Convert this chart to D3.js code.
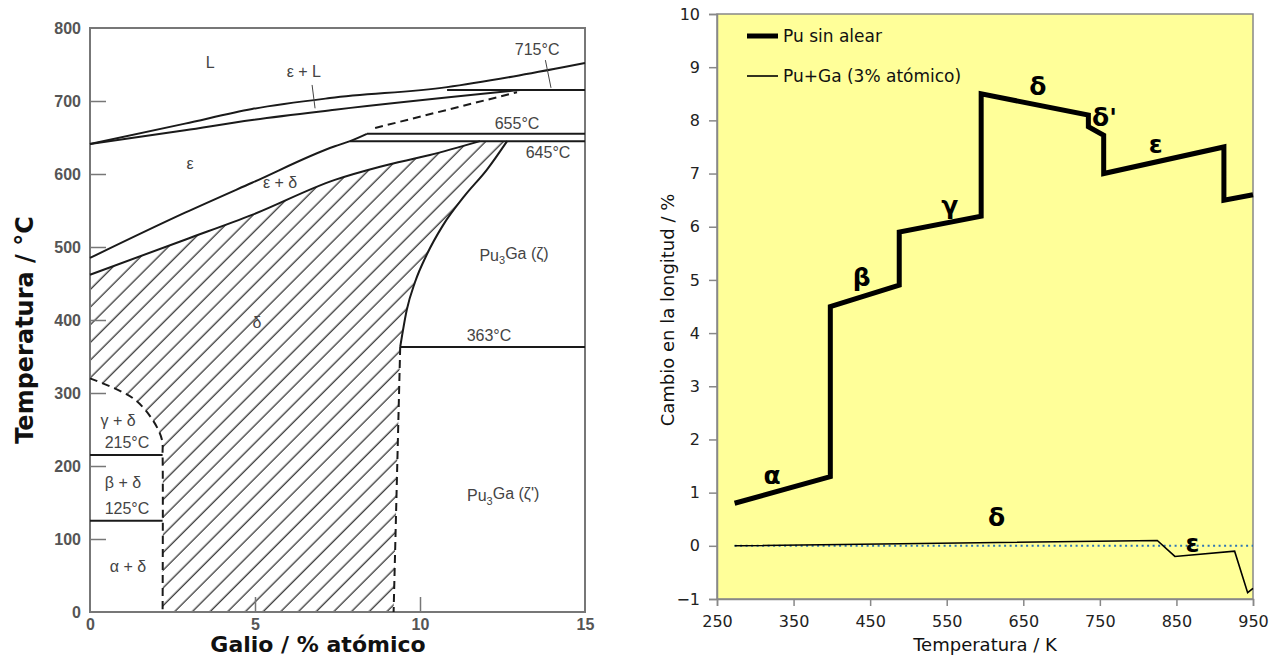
<!DOCTYPE html>
<html>
<head>
<meta charset="utf-8">
<script src="https://cdn.jsdelivr.net/npm/d3@7"></script>
<style>
  body { margin: 0; background: #fff; }
</style>
</head>
<body>
<div id="chart"></div>
<script>
// ---- left panel: Pu-Ga phase diagram, [Ga % atómico, °C]
const liquidus   = [[0,641],[2.88,669],[4.91,689],[7.27,704],[10.82,719],[13,735],[15,752]];
const solidusEps = [[0,641],[2.88,660],[4.91,674],[7.42,688],[13.03,715]];
const epsDelta   = [[0,485],[2.88,547],[4.91,588],[7.42,638],[7.88,645],[8.39,655]];
const deltaTop   = [[0,462],[2.88,510],[4.91,544],[7.42,592],[8.79,610],[10.3,626],[11.82,645]];
const deltaRight = [[9.4,363],[9.6,414],[9.85,452],[10.21,490],[10.7,530],[11.35,570],[12.03,606],[12.64,645]];
const dashedPeri = [[8.64,663],[12.94,712]];
const dashedVert = [[9.4,363],[9.2,0]];
const dashedLeft = [[0,320],[1.3,293],[1.9,263],[2.18,236],[2.2,215],[2.2,0]];
const isotherms  = [[10.82,15,715],[8.39,15,655],[7.88,15,645],[9.4,15,363],[0,2.2,215],[0,2.2,125]];
const leaders    = [[[6.73,722],[6.82,690]],[[13.8,756],[13.97,718]]];
const phaseLabels = [
  {t:"L", x:3.64, y:753}, {t:"ε + L", x:6.48, y:740}, {t:"715°C", x:13.55, y:771},
  {t:"655°C", x:12.94, y:670}, {t:"645°C", x:13.88, y:629}, {t:"ε", x:3.03, y:615},
  {t:"ε + δ", x:5.76, y:588}, {t:"δ", x:5.06, y:397}, {t:"363°C", x:12.09, y:379},
  {t:"γ + δ", x:0.85, y:263}, {t:"215°C", x:1.12, y:232}, {t:"β + δ", x:1.0, y:178},
  {t:"125°C", x:1.12, y:142}, {t:"α + δ", x:1.15, y:62}
];
const compLabels = [{t:"(ζ)", x:12.85, y:489}, {t:"(ζ')", x:12.52, y:160}];
const tempTicks = [0,100,200,300,400,500,600,700,800];
const gaTicks = [0,5,10,15];

// ---- right panel: cambio en la longitud
const puTemp = [273, 398, 398, 488, 488, 595, 595, 735, 735, 755, 755, 912, 912, 950];
const puLen  = [0.8, 1.3, 4.5, 4.9, 5.9, 6.2, 8.5, 8.1, 7.88, 7.72, 7.0, 7.5, 6.5, 6.6];
const gaTemp = [273, 825, 848, 926, 943, 950];
const gaLen  = [0, 0.1, -0.2, -0.1, -0.88, -0.8];
const kTicks = [250,350,450,550,650,750,850,950];
const pctTicks = [-1,0,1,2,3,4,5,6,7,8,9,10];
const greek = [
  {t:"α", x:322, y:1.33}, {t:"β", x:439, y:5.05}, {t:"γ", x:554, y:6.4},
  {t:"δ", x:669, y:8.65}, {t:"δ'", x:756, y:8.05}, {t:"ε", x:823, y:7.55},
  {t:"δ", x:615, y:0.53}, {t:"ε", x:871, y:0.05}
];

const svg = d3.select("#chart").append("svg")
  .attr("width", 1269).attr("height", 657);

// ================= left =================
const xL = d3.scaleLinear().domain([0,15]).range([90,585]);
const yL = d3.scaleLinear().domain([0,800]).range([612,28]);
const lineL = d3.line().x(d => xL(d[0])).y(d => yL(d[1])).curve(d3.curveMonotoneX);
const curveL = d3.line().x(d => xL(d[0])).y(d => yL(d[1])).curve(d3.curveCatmullRom.alpha(0.5));
const straightL = d3.line().x(d => xL(d[0])).y(d => yL(d[1]));

const defs = svg.append("defs");
defs.append("pattern")
  .attr("id", "hatch").attr("patternUnits", "userSpaceOnUse")
  .attr("width", 12.5).attr("height", 10)
  .attr("patternTransform", "rotate(45)")
  .append("line").attr("x1", 6).attr("x2", 6).attr("y1", 0).attr("y2", 10)
  .attr("stroke", "#222").attr("stroke-width", 1.2);

// delta region outline built from the boundary arrays
const deltaPath = lineL(deltaTop) + "L" + xL(12.64) + "," + yL(645) +
  lineL(deltaRight.slice().reverse()).replace(/^M/, "L") +
  "L" + xL(9.2) + "," + yL(0) +
  curveL(dashedLeft.slice().reverse()).replace(/^M/, "L") + "Z";
svg.append("path").attr("d", deltaPath).attr("fill", "url(#hatch)").attr("stroke", "none");

const gL = svg.append("g");
gL.append("rect").attr("x", 90).attr("y", 28).attr("width", 495).attr("height", 584)
  .attr("fill", "none").attr("stroke", "#777").attr("stroke-width", 2);

const axL = gL.append("g").attr("transform", "translate(90,0)")
  .call(d3.axisLeft(yL).tickValues(tempTicks).tickSize(-16).tickPadding(9));
const axB = gL.append("g").attr("transform", "translate(0,612)")
  .call(d3.axisBottom(xL).tickValues(gaTicks).tickSize(-15).tickPadding(7));
[axL, axB].forEach(a => {
  a.select(".domain").remove();
  a.selectAll(".tick line").attr("stroke", "#777").attr("stroke-width", 1.5);
  a.selectAll(".tick text").attr("fill", "#555").attr("font-family", "Liberation Sans, Arial, sans-serif")
    .attr("font-size", 16).attr("font-weight", "bold");
});
axL.selectAll(".tick").filter(d => d === 0 || d === 800).select("line").remove();
axB.selectAll(".tick").filter(d => d === 0 || d === 15).select("line").remove();

const solid = [liquidus, solidusEps, epsDelta, deltaTop, deltaRight];
gL.selectAll("path.phase").data(solid).join("path").attr("class", "phase")
  .attr("d", lineL).attr("fill", "none").attr("stroke", "#1a1a1a").attr("stroke-width", 2);
gL.selectAll("line.iso").data(isotherms).join("line").attr("class", "iso")
  .attr("x1", d => xL(d[0])).attr("x2", d => xL(d[1]))
  .attr("y1", d => yL(d[2])).attr("y2", d => yL(d[2]))
  .attr("stroke", "#1a1a1a").attr("stroke-width", 2);
gL.selectAll("path.dash").data([dashedPeri, dashedVert, dashedLeft]).join("path").attr("class", "dash")
  .attr("d", (d, i) => i === 2 ? curveL(d) : straightL(d))
  .attr("fill", "none").attr("stroke", "#1a1a1a").attr("stroke-width", 2)
  .attr("stroke-dasharray", "8,5");
gL.selectAll("path.lead").data(leaders).join("path").attr("class", "lead")
  .attr("d", straightL).attr("stroke", "#444").attr("stroke-width", 1);

const fontL = "Liberation Sans, Arial, sans-serif";
gL.selectAll("text.ph").data(phaseLabels).join("text").attr("class", "ph")
  .attr("x", d => xL(d.x)).attr("y", d => yL(d.y)).attr("dy", "0.35em")
  .attr("text-anchor", "middle").attr("font-family", fontL).attr("font-size", 16)
  .attr("fill", "#444").text(d => d.t);
compLabels.forEach(d => {
  const t = gL.append("text").attr("x", xL(d.x)).attr("y", yL(d.y)).attr("dy", "0.35em")
    .attr("text-anchor", "middle").attr("font-family", fontL).attr("font-size", 16).attr("fill", "#444");
  t.append("tspan").text("Pu");
  t.append("tspan").attr("font-size", 11).attr("dy", "0.35em").text("3");
  t.append("tspan").attr("dy", "-0.35em").text("Ga " + d.t);
});

svg.append("text").attr("transform", "translate(33,330) rotate(-90)")
  .attr("text-anchor", "middle").attr("font-family", "DejaVu Sans, Verdana, sans-serif")
  .attr("font-weight", "bold").attr("font-size", 24).attr("fill", "#111")
  .text("Temperatura / °C");
svg.append("text").attr("x", 318).attr("y", 652)
  .attr("text-anchor", "middle").attr("font-family", "DejaVu Sans, Verdana, sans-serif")
  .attr("font-weight", "bold").attr("font-size", 22).attr("fill", "#111")
  .text("Galio / % atómico");

// ================= right =================
const xR = d3.scaleLinear().domain([250,950]).range([717,1253]);
const yR = d3.scaleLinear().domain([-1,10]).range([599,14]);
const fontR = "DejaVu Sans, Verdana, sans-serif";
const gR = svg.append("g");

gR.append("rect").attr("x", 717).attr("y", 14).attr("width", 536).attr("height", 585)
  .attr("fill", "#ffff99").attr("stroke", "#888").attr("stroke-width", 1.5);

const axRx = gR.append("g").attr("transform", "translate(0,599)")
  .call(d3.axisBottom(xR).tickValues(kTicks).tickSize(7).tickPadding(10).tickFormat(d3.format("d")));
const axRy = gR.append("g").attr("transform", "translate(717,0)")
  .call(d3.axisLeft(yR).tickValues(pctTicks).tickSize(8).tickPadding(9).tickFormat(d3.format("d")));
[axRx, axRy].forEach(a => {
  a.select(".domain").attr("stroke", "#888").attr("stroke-width", 1.5);
  a.selectAll(".tick line").attr("stroke", "#888").attr("stroke-width", 1.5);
  a.selectAll(".tick text").attr("fill", "#222").attr("font-family", fontR).attr("font-size", 16);
});

const lineR = d3.line().x(d => xR(d[0])).y(d => yR(d[1]));
gR.append("path").attr("d", lineR([[gaTemp[0], 0], [950, 0]]))
  .attr("stroke", "#2e75b6").attr("stroke-width", 2).attr("stroke-dasharray", "2,3.5").attr("fill", "none");
gR.append("path").attr("d", lineR(gaTemp.map((t, i) => [t, gaLen[i]])))
  .attr("stroke", "#000").attr("stroke-width", 1.6).attr("fill", "none");
gR.append("path").attr("d", lineR(puTemp.map((t, i) => [t, puLen[i]])))
  .attr("stroke", "#000").attr("stroke-width", 5).attr("stroke-linejoin", "miter").attr("fill", "none");

gR.selectAll("text.gk").data(greek).join("text").attr("class", "gk")
  .attr("x", d => xR(d.x)).attr("y", d => yR(d.y)).attr("dy", "0.35em")
  .attr("text-anchor", "middle").attr("font-family", fontR).attr("font-size", 25)
  .attr("font-weight", "bold").attr("fill", "#000").text(d => d.t);

// legend
const legend = [{t:"Pu sin alear", w:5}, {t:"Pu+Ga (3% atómico)", w:1.6}];
const lg = gR.append("g").selectAll("g").data(legend).join("g")
  .attr("transform", (d, i) => "translate(747," + (36 + i * 40) + ")");
lg.append("line").attr("x1", 0).attr("x2", 31).attr("stroke", "#000").attr("stroke-width", d => d.w);
lg.append("text").attr("x", 36).attr("dy", "0.35em").attr("font-family", fontR)
  .attr("font-size", 17).attr("fill", "#111").text(d => d.t);

svg.append("text").attr("transform", "translate(674,310) rotate(-90)")
  .attr("text-anchor", "middle").attr("font-family", fontR).attr("font-size", 18).attr("fill", "#111")
  .text("Cambio en la longitud / %");
svg.append("text").attr("x", 985).attr("y", 651)
  .attr("text-anchor", "middle").attr("font-family", fontR).attr("font-size", 18).attr("fill", "#111")
  .text("Temperatura / K");
</script>
</body>
</html>
